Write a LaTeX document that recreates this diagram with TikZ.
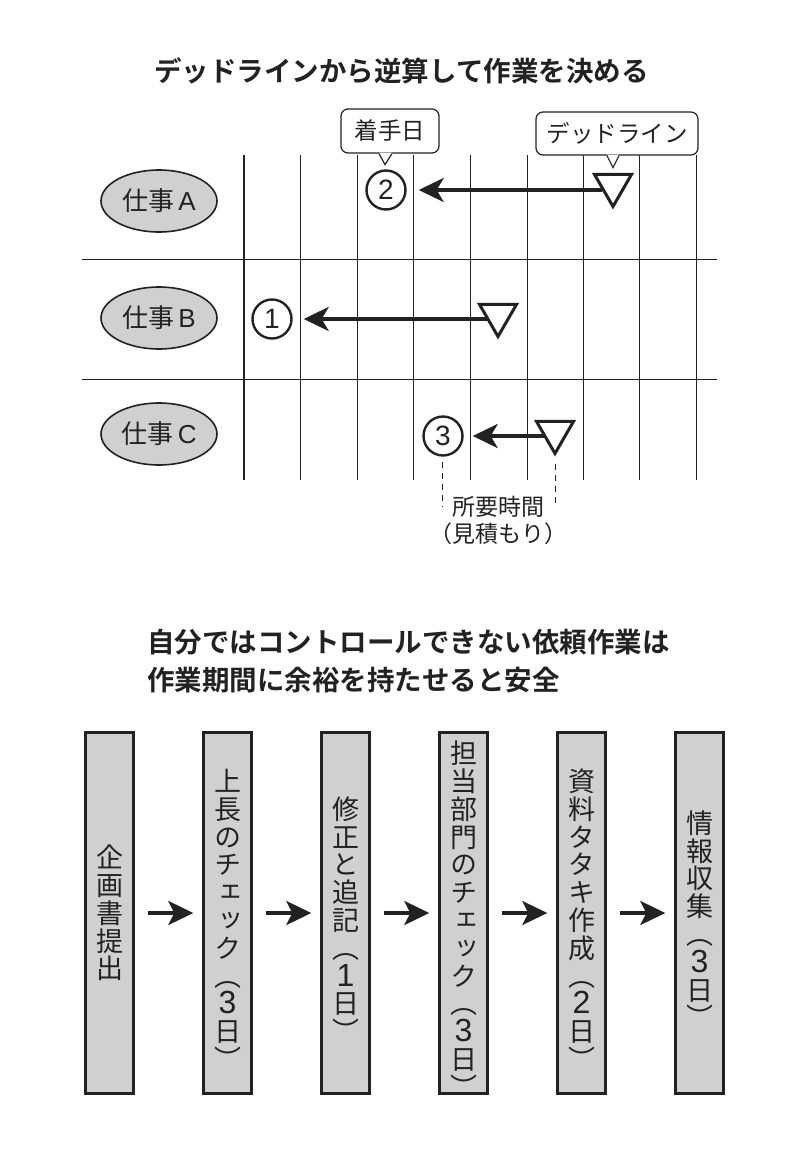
\documentclass[tikz,border=0pt]{standalone}
\usepackage{fontspec}
\setmainfont{Noto Sans CJK JP}[BoldFont={Noto Sans CJK JP Bold}]
\newfontfamily\vjp[RawFeature=+vert]{Noto Sans CJK JP}
\newfontfamily\lat{Liberation Sans}
\usetikzlibrary{shapes.geometric,arrows.meta,calc}
\definecolor{ink}{HTML}{222222}
\definecolor{boxgray}{HTML}{D0D0D0}
\newcommand{\fs}[2]{\fontsize{#1}{#2}\selectfont}
\newcommand{\vs}{\rule{0pt}{35pt}}
\newcommand{\vsb}{\rule{0pt}{29pt}}
\newcommand{\dg}[1]{{\lat\fs{32}{27.8}#1}}
\tikzset{
  x=1pt,y=-1pt,
  every node/.style={text=ink,inner sep=0pt},
  title/.style={font=\fs{27.5}{38}\bfseries,anchor=west,align=left},
  gridline/.style={draw=ink,line width=1pt},
  job/.style={ellipse,draw=ink,line width=1.6pt,fill=boxgray,minimum width=116pt,minimum height=62pt,font=\fs{26}{30}},
  num/.style={circle,draw=ink,line width=2.4pt,fill=white,minimum size=39pt,font=\fs{28}{30}\lat},
  mark tri/.style={regular polygon,regular polygon sides=3,shape border rotate=180,draw=ink,line width=3pt,fill=white,minimum size=43pt},
  span arrow/.style={draw=ink,line width=3.4pt,-{Stealth[length=25pt,width=24pt,inset=7pt]}},
  flow arrow/.style={draw=ink,line width=3.4pt,shorten <=13pt,shorten >=9pt,-{Stealth[length=25pt,width=24pt,inset=6pt]}},
  callout/.style={draw=ink,line width=1.2pt,rounded corners=7pt,fill=white,font=\fs{23.5}{28}},
  stepbox/.style={draw=ink,line width=2.4pt,fill=boxgray,minimum width=48pt,minimum height=361pt,align=center,font=\fs{27}{27.8}\vjp},
  guide/.style={draw=ink,line width=1pt,dash pattern=on 6pt off 5pt},
}
\begin{document}
\begin{tikzpicture}
\useasboundingbox (0,0) rectangle (807,1168);
% titles
\node[title,anchor=center] (t1) at (401.5,71) {デッドラインから逆算して作業を決める};
\node[title] (t2) at (147,661) {自分ではコントロールできない依頼作業は\\作業期間に余裕を持たせると安全};
% grid
\foreach \n/\x in {a/300,b/357,c/413,d/470,e/527,f/583,g/639,h/696}{
  \coordinate (top\n) at (\x,155);
  \coordinate (bot\n) at (\x,480);
  \draw[gridline] (top\n) -- (bot\n);
}
\coordinate (topz) at (244,155);
\coordinate (botz) at (244,480);
\draw[gridline,line width=2.2pt] (topz) -- (botz);
\coordinate (r1l) at (82,259);
\coordinate (r1r) at (717,259);
\coordinate (r2l) at (82,379);
\coordinate (r2r) at (717,379);
\draw[gridline] (r1l) -- (r1r);
\draw[gridline] (r2l) -- (r2r);
% job labels
\node[job] (ja) at (159,201) {仕事{\lat\,A}};
\node[job] (jb) at (159,318) {仕事{\lat\,B}};
\node[job] (jc) at (159,434) {仕事{\lat\,C}};
% circles
\node[num] (n2) at (386,190) {2};
\node[num] (n1) at (272,319) {1};
\node[num] (n3) at (443,436) {3};
% triangles
\node[mark tri] (ta) at (613,185) {};
\node[mark tri] (tb) at (498,315) {};
\node[mark tri] (tc) at (555,432) {};
% arrows
\draw[span arrow,shorten <=11pt,shorten >=12pt] (ta.center |- n2.center) -- (n2.east);
\draw[span arrow,shorten <=11pt,shorten >=11pt] (tb.center |- n1.center) -- (n1.east);
\draw[span arrow,shorten <=11pt,shorten >=9pt] (tc.center |- n3.center) -- (n3.east);
% callouts
\node[callout,minimum width=98pt,minimum height=44pt] (c1) at (390,131) {着手日};
\node[callout,minimum width=162pt,minimum height=43pt] (c2) at (617,133.5) {デッドライン};
\fill[white] ($(c1.south)+(-11,-1)$) -- ($(c1.south)+(2,-1)$) -- ($(c1.south)+(-5,10)$) -- cycle;
\draw[ink,line width=1.2pt] ($(c1.south)+(-11,0)$) -- ($(c1.south)+(-5,11)$) -- ($(c1.south)+(2,0)$);
\fill[white] ($(c2.south)+(-10,-1)$) -- ($(c2.south)+(2,-1)$) -- ($(c2.south)+(-4,10)$) -- cycle;
\draw[ink,line width=1.2pt] ($(c2.south)+(-10,0)$) -- ($(c2.south)+(-4,12)$) -- ($(c2.south)+(2,0)$);
% duration
\coordinate (d1) at (442,506);
\coordinate (d2) at (555,506);
\draw[guide] (n3.south -| d1) ++(0,5) -- (d1);
\draw[guide] (tc.south -| d2) ++(0,7) -- (d2);
\node[font=\fs{23}{27},align=center] (dur) at (498,520.5) {所要時間\\（見積もり）};
% process
\node[stepbox] (s1) at (109.5,913) {企\\画\\書\\提\\出};
\node[stepbox] (s2) at (227.5,913) {\vs 上\\長\\の\\チ\\ェ\\ッ\\ク\\（\\\dg{3}\\日\\）};
\node[stepbox] (s3) at (345.5,913) {\vs 修\\正\\と\\追\\記\\（\\\dg{1}\\日\\）};
\node[stepbox] (s4) at (463.5,913) {\vsb 担\\当\\部\\門\\の\\チ\\ェ\\ッ\\ク\\（\\\dg{3}\\日\\）\vspace{-6pt}};
\node[stepbox] (s5) at (581.5,913) {\vs 資\\料\\タ\\タ\\キ\\作\\成\\（\\\dg{2}\\日\\）};
\node[stepbox] (s6) at (699.5,913) {\vs 情\\報\\収\\集\\（\\\dg{3}\\日\\）};
\draw[flow arrow] (s1) -- (s2);
\draw[flow arrow] (s2) -- (s3);
\draw[flow arrow] (s3) -- (s4);
\draw[flow arrow] (s4) -- (s5);
\draw[flow arrow] (s5) -- (s6);
\end{tikzpicture}
\end{document}
